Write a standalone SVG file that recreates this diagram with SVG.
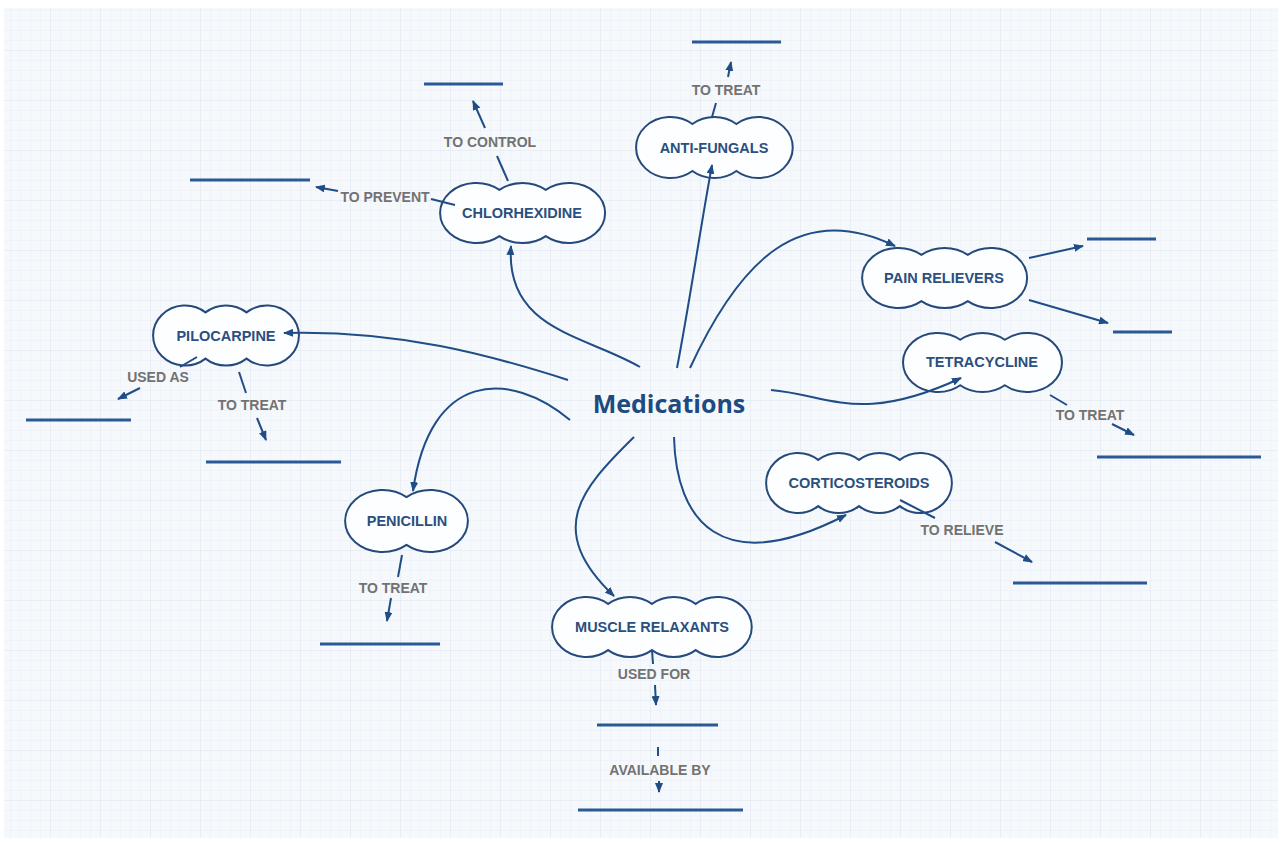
<svg xmlns="http://www.w3.org/2000/svg" width="1282" height="843" viewBox="0 0 1282 843">
<defs>
<pattern id="grid" width="10" height="10" patternUnits="userSpaceOnUse">
<path d="M10 0 L0 0 0 10" fill="none" stroke="#e9eef5" stroke-width="1"/>
</pattern>
<pattern id="grid5" width="50" height="50" patternUnits="userSpaceOnUse">
<rect width="50" height="50" fill="url(#grid)"/>
<path d="M50 0 L0 0 0 50" fill="none" stroke="#e0e7f0" stroke-width="1"/>
</pattern>
<marker id="arr" viewBox="0 0 10 8" refX="9" refY="4" markerWidth="10" markerHeight="8" markerUnits="userSpaceOnUse" orient="auto">
<path d="M0,0 L10,4 L0,8 z" fill="#1f4d85"/>
</marker>
<style>
.cloud{fill:#fdfeff;stroke:#24497a;stroke-width:2}
.nl{font-family:"Liberation Sans",Arial,sans-serif;font-weight:bold;font-size:14.5px;fill:#2b4f7e;text-anchor:middle}
.el{font-family:"Liberation Sans",Arial,sans-serif;font-weight:bold;font-size:14px;fill:#727272;text-anchor:middle}
.c{fill:none;stroke:#1f4d85;stroke-width:2}
.ca{fill:none;stroke:#1f4d85;stroke-width:2;marker-end:url(#arr)}
.blank{stroke:#2a5a96;stroke-width:3}
</style>
</defs>
<rect width="1282" height="843" fill="#ffffff"/>
<rect x="4" y="8" width="1274" height="830" fill="#f6f9fc"/>
<rect x="4" y="8" width="1274" height="830" fill="url(#grid5)"/>

<g id="blanks">
<line class="blank" x1="692" y1="42" x2="781" y2="42"/>
<line class="blank" x1="424" y1="84" x2="503" y2="84"/>
<line class="blank" x1="190" y1="180" x2="310" y2="180"/>
<line class="blank" x1="1087" y1="239" x2="1156" y2="239"/>
<line class="blank" x1="1113" y1="332" x2="1172" y2="332"/>
<line class="blank" x1="26" y1="420" x2="131" y2="420"/>
<line class="blank" x1="206" y1="462" x2="341" y2="462"/>
<line class="blank" x1="1097" y1="457" x2="1261" y2="457"/>
<line class="blank" x1="1013" y1="583" x2="1147" y2="583"/>
<line class="blank" x1="320" y1="644" x2="440" y2="644"/>
<line class="blank" x1="597" y1="725" x2="718" y2="725"/>
<line class="blank" x1="578" y1="810" x2="743" y2="810"/>
</g>

<g id="medications">
<text x="669" y="413" font-family="'Open Sans','Liberation Sans',sans-serif" font-weight="bold" font-size="25" fill="#1d4a80" text-anchor="middle">Medications</text>
</g>

<g id="anti-fungals">
<path class="cloud" d="M692.4,124 A34.4,30.5 0 0 1 736.4,124 A34.4,30.5 0 1 1 736.4,171 A34.4,30.5 0 0 1 692.4,171 A34.4,30.5 0 1 1 692.4,124 Z"/>
<text class="nl" x="714" y="153">ANTI-FUNGALS</text>
</g>

<g id="chlorhexidine">
<path class="cloud" d="M499.4,189.9 A36.2,30 0 0 1 545.8,189.9 A36.2,30 0 1 1 545.8,236.1 A36.2,30 0 0 1 499.4,236.1 A36.2,30 0 1 1 499.4,189.9 Z"/>
<text class="nl" x="522" y="218">CHLORHEXIDINE</text>
</g>

<g id="pain-relievers">
<path class="cloud" d="M921.4,254.9 A36.2,30 0 0 1 967.8,254.9 A36.2,30 0 1 1 967.8,301.1 A36.2,30 0 0 1 921.4,301.1 A36.2,30 0 1 1 921.4,254.9 Z"/>
<text class="nl" x="944" y="283">PAIN RELIEVERS</text>
</g>

<g id="tetracycline">
<path class="cloud" d="M960.2,339.8 A34.9,29.5 0 0 1 1004.8,339.8 A34.9,29.5 0 1 1 1004.8,385.2 A34.9,29.5 0 0 1 960.2,385.2 A34.9,29.5 0 1 1 960.2,339.8 Z"/>
<text class="nl" x="982" y="367">TETRACYCLINE</text>
</g>

<g id="pilocarpine">
<path class="cloud" d="M205.5,312.4 A32,30 0 0 1 246.5,312.4 A32,30 0 1 1 246.5,358.6 A32,30 0 0 1 205.5,358.6 A32,30 0 1 1 205.5,312.4 Z"/>
<text class="nl" x="226" y="341">PILOCARPINE</text>
</g>

<g id="corticosteroids">
<path class="cloud" d="M818.2,459.9 A31.8,30 0 0 1 859,459.9 A31.8,30 0 0 1 899.8,459.9 A31.8,30 0 1 1 899.8,506.1 A31.8,30 0 0 1 859,506.1 A31.8,30 0 0 1 818.2,506.1 A31.8,30 0 1 1 818.2,459.9 Z"/>
<text class="nl" x="859" y="488">CORTICOSTEROIDS</text>
</g>

<g id="penicillin">
<path class="cloud" d="M406.5,497.1 A37.5,31 0 1 1 406.5,544.9 A37.5,31 0 1 1 406.5,497.1 Z"/>
<text class="nl" x="407" y="526">PENICILLIN</text>
</g>

<g id="muscle-relaxants">
<path class="cloud" d="M608.1,603.9 A34.2,30 0 0 1 651.9,603.9 A34.2,30 0 0 1 695.7,603.9 A34.2,30 0 1 1 695.7,650.1 A34.2,30 0 0 1 651.9,650.1 A34.2,30 0 0 1 608.1,650.1 A34.2,30 0 1 1 608.1,603.9 Z"/>
<text class="nl" x="652" y="632">MUSCLE RELAXANTS</text>
</g>

<g id="connectors">
<path class="ca" d="M640,367 C585,335 505,330 511,246"/>
<path class="ca" d="M677,368 C690,300 700,230 712,165"/>
<path class="ca" d="M690,368 C740,260 800,200 895,246"/>
<path class="ca" d="M771,390 C830,395 860,425 961,378"/>
<path class="ca" d="M674,437 C676,520 720,580 846,515"/>
<path class="ca" d="M634,437 C580,490 545,530 614,596"/>
<path class="ca" d="M570,420 C510,370 430,370 413,491"/>
<path class="ca" d="M568,380 C490,355 400,330 284,333"/>

<path class="c" d="M508,181 L497,156"/>
<path class="ca" d="M485,128 L473,101"/>
<path class="c" d="M455,205 L431,199"/>
<path class="ca" d="M338,191 L316,187"/>
<path class="c" d="M712,117 L716,103"/>
<path class="ca" d="M728,77 L731,62"/>
<path class="ca" d="M1029,258 L1083,246"/>
<path class="ca" d="M1029,300 L1108,323"/>
<path class="c" d="M1050,395 L1067,405"/>
<path class="ca" d="M1112,424 L1134,435"/>
<path class="c" d="M900,500 L935,518"/>
<path class="ca" d="M995,542 L1032,562"/>
<path class="c" d="M652,650 L653,664"/>
<path class="ca" d="M655,685 L656,705"/>
<path class="c" d="M658,747 L658,756"/>
<path class="ca" d="M659,781 L659,792"/>
<path class="c" d="M402,555 L398,577"/>
<path class="ca" d="M391,598 L387,621"/>
<path class="c" d="M197,357 L180,367"/>
<path class="ca" d="M140,388 L118,399"/>
<path class="c" d="M239,372 L246,393"/>
<path class="ca" d="M257,418 L266,440"/>

<text class="el" x="490" y="147">TO CONTROL</text>
<text class="el" x="385" y="202">TO PREVENT</text>
<text class="el" x="726" y="95">TO TREAT</text>
<text class="el" x="1090" y="420">TO TREAT</text>
<text class="el" x="962" y="535">TO RELIEVE</text>
<text class="el" x="654" y="679">USED FOR</text>
<text class="el" x="660" y="775">AVAILABLE BY</text>
<text class="el" x="393" y="593">TO TREAT</text>
<text class="el" x="158" y="382">USED AS</text>
<text class="el" x="252" y="410">TO TREAT</text>
</g>
</svg>
